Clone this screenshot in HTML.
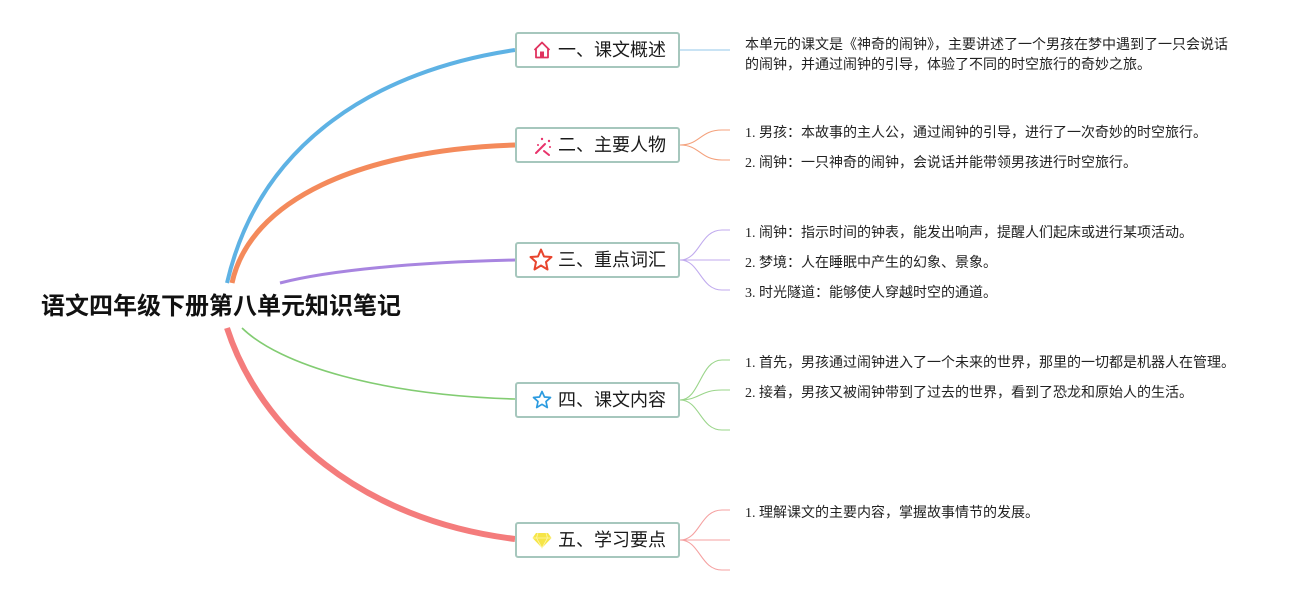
<!DOCTYPE html>
<html><head><meta charset="utf-8">
<style>
html,body{margin:0;padding:0;background:#fff;}
body{width:1305px;height:595px;position:relative;overflow:hidden;font-family:"Liberation Sans","Noto Sans CJK SC",sans-serif;}
.root{position:absolute;left:41px;top:291px;font-size:24px;font-weight:bold;color:#111;line-height:32px;white-space:nowrap;font-family:"Liberation Sans","Noto Sans CJK SC",sans-serif;}
.box{position:absolute;left:515px;width:161px;height:32px;border:2px solid #a6c7bd;border-radius:3px;background:#fff;box-sizing:content-box;}
.lbl{position:absolute;left:558px;font-size:18px;line-height:36px;color:#1a1a1a;white-space:nowrap;}
.t{position:absolute;left:745px;font-size:14px;line-height:20px;color:#222;white-space:nowrap;font-family:"Liberation Serif","Noto Sans CJK SC",sans-serif;}
.t span{font-family:"Liberation Sans","Noto Sans CJK SC",sans-serif;}
svg{position:absolute;left:0;top:0;}
</style></head><body>
<svg width="1305" height="595" viewBox="0 0 1305 595">
  <path d="M227,283 C260,140 380,70 515,50" fill="none" stroke="#5eb2e4" stroke-width="4"/>
  <path d="M232,283 C250,200 360,150 515,145" fill="none" stroke="#f48a5b" stroke-width="5"/>
  <path d="M280,283 C330,270 420,262 515,260" fill="none" stroke="#a885e0" stroke-width="3"/>
  <path d="M242,328 C280,365 380,395 515,399" fill="none" stroke="#82cc72" stroke-width="1.6"/>
  <path d="M227,328 C260,430 360,520 515,539" fill="none" stroke="#f47c7c" stroke-width="6"/>
  <path d="M680,50 L730,50" fill="none" stroke="#a9d2ee" stroke-width="1.3"/>
  <g fill="none" stroke="#f4a17c" stroke-width="1.1">
    <path d="M680,145 C700,145 700,130 722,130 L730,130"/>
    <path d="M680,145 C700,145 700,160 722,160 L730,160"/>
  </g>
  <g fill="none" stroke="#c0aaee" stroke-width="1.1">
    <path d="M680,260 C700,260 700,230 722,230 L730,230"/>
    <path d="M680,260 L730,260"/>
    <path d="M680,260 C700,260 700,290 722,290 L730,290"/>
  </g>
  <g fill="none" stroke="#9ad58a" stroke-width="1.1">
    <path d="M680,400 C700,400 700,360 722,360 L730,360"/>
    <path d="M680,400 C700,400 700,390 722,390 L730,390"/>
    <path d="M680,400 C700,400 700,430 722,430 L730,430"/>
  </g>
  <g fill="none" stroke="#f5a0a0" stroke-width="1.1">
    <path d="M680,540 C700,540 700,510 722,510 L730,510"/>
    <path d="M680,540 L730,540"/>
    <path d="M680,540 C700,540 700,570 722,570 L730,570"/>
  </g>
</svg>

<div class="root">语文四年级下册第八单元知识笔记</div>

<div class="box" style="top:32px"></div>
<div class="box" style="top:127px"></div>
<div class="box" style="top:242px"></div>
<div class="box" style="top:382px"></div>
<div class="box" style="top:522px"></div>

<svg width="1305" height="595" viewBox="0 0 1305 595">
  <g fill="none" stroke="#e0335f" stroke-width="1.8" stroke-linejoin="round">
    <path d="M534.5,50 L542,42.5 L549.5,50 M536,48.5 L536,57.5 L548,57.5 L548,48.5"/>
  </g>
  <rect x="540" y="51.5" width="4" height="6" fill="#e0335f"/>
  <g stroke="#e8336b" stroke-linecap="round">
    <path d="M536,153 L545,144" stroke-width="2"/>
    <path d="M544,151 L549,155" stroke-width="2"/>
  </g>
  <g fill="#e8336b">
    <circle cx="542" cy="139" r="1.2"/><circle cx="549" cy="141" r="1.2"/><circle cx="550" cy="147" r="1"/><circle cx="538" cy="145" r="1"/>
  </g>
  <path d="M541,249.5 L544,256.5 L551.5,257 L546,262 L547.5,269.5 L541,265.5 L534.5,269.5 L536,262 L530.5,257 L538,256.5 Z" fill="none" stroke="#e8452e" stroke-width="2" stroke-linejoin="round"/>
  <path d="M542,391.5 L544.5,397 L550.5,397.5 L546,401.5 L547.3,407.5 L542,404.3 L536.7,407.5 L538,401.5 L533.5,397.5 L539.5,397 Z" fill="none" stroke="#2c9be0" stroke-width="1.7" stroke-linejoin="round"/>
  <path d="M536,533 L548,533 L551.5,538 L542,548 L532.5,538 Z" fill="#f6e547"/>
  <path d="M532.5,538 L551.5,538 M538,533 L536.5,538 L542,548 L547.5,538 L546,533" fill="none" stroke="#fff6a8" stroke-width="0.8"/>
</svg>

<div class="lbl" style="top:32px">一、课文概述</div>
<div class="lbl" style="top:127px">二、主要人物</div>
<div class="lbl" style="top:242px">三、重点词汇</div>
<div class="lbl" style="top:382px">四、课文内容</div>
<div class="lbl" style="top:522px">五、学习要点</div>

<div class="t" style="top:34px"><span>本单元的课文是《神奇的闹钟》，主要讲述了一个男孩在梦中遇到了一只会说话</span></div>
<div class="t" style="top:54px"><span>的闹钟，并通过闹钟的引导，体验了不同的时空旅行的奇妙之旅。</span></div>

<div class="t" style="top:122px">1. <span>男孩：本故事的主人公，通过闹钟的引导，进行了一次奇妙的时空旅行。</span></div>
<div class="t" style="top:152px">2. <span>闹钟：一只神奇的闹钟，会说话并能带领男孩进行时空旅行。</span></div>

<div class="t" style="top:222px">1. <span>闹钟：指示时间的钟表，能发出响声，提醒人们起床或进行某项活动。</span></div>
<div class="t" style="top:252px">2. <span>梦境：人在睡眠中产生的幻象、景象。</span></div>
<div class="t" style="top:282px">3. <span>时光隧道：能够使人穿越时空的通道。</span></div>

<div class="t" style="top:352px">1. <span>首先，男孩通过闹钟进入了一个未来的世界，那里的一切都是机器人在管理。</span></div>
<div class="t" style="top:382px">2. <span>接着，男孩又被闹钟带到了过去的世界，看到了恐龙和原始人的生活。</span></div>

<div class="t" style="top:502px">1. <span>理解课文的主要内容，掌握故事情节的发展。</span></div>
</body></html>
